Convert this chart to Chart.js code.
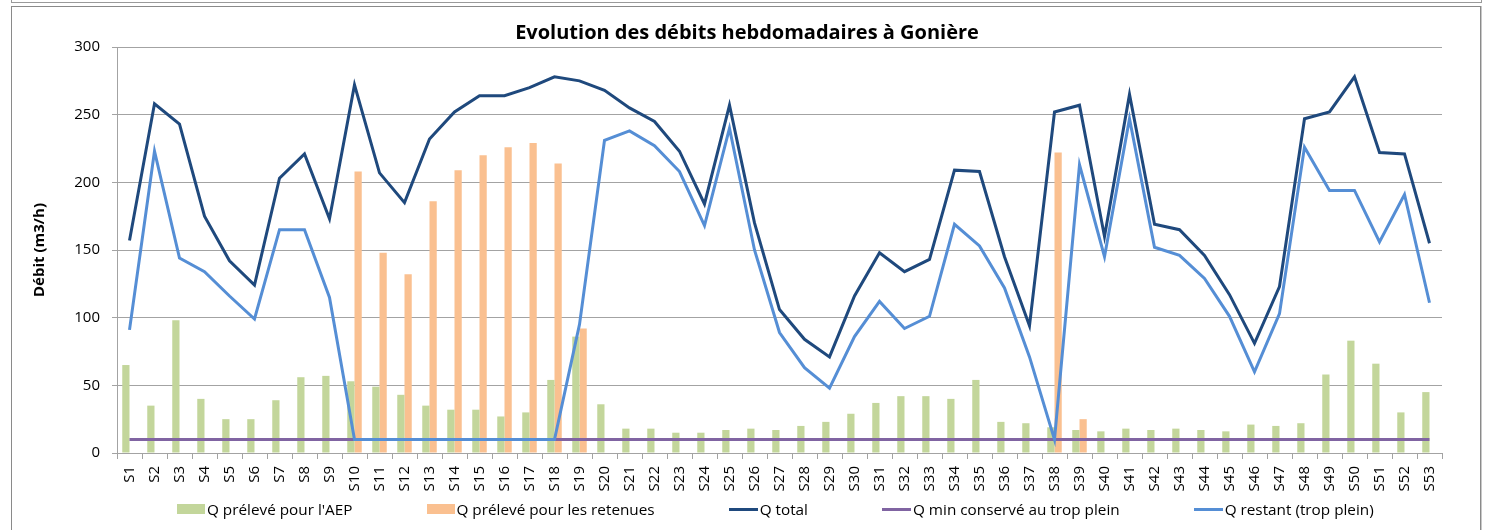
<!DOCTYPE html>
<html lang="fr">
<head>
<meta charset="utf-8">
<script src="https://cdn.jsdelivr.net/npm/chart.js@4.4.1/dist/chart.umd.min.js"></script>
<style>
  html, body { margin: 0; padding: 0; background: #fff; }
  body { width: 1494px; height: 530px; position: relative; overflow: hidden; font-family: "Open Sans", sans-serif; }
  #prevBox { position: absolute; left: 11px; top: -20px; width: 1469px; height: 21px; border: 1px solid #9a9a9a; }
  #frame { position: absolute; left: 11px; top: 6px; width: 1468px; height: 600px; border: 1px solid #8a8a8a; box-shadow: 1px 0 0 #c8c8c8; }
  #chart { position: absolute; left: 0; top: 0; }
  #legend { position: absolute; left: 177px; top: 499px; display: flex; align-items: center; gap: 74px; font-size: 15.3px; line-height: 20px; color: #000; white-space: nowrap; }
  #legend .item { display: flex; align-items: center; }
  #legend .swatch { width: 28px; height: 10px; margin-right: 2px; }
  #legend .line { width: 29px; height: 3px; margin-right: 2px; }
</style>
</head>
<body>
<div id="prevBox"></div>
<div id="frame"></div>
<canvas id="chart" width="1494" height="530"></canvas>
<div id="legend"></div>
<script>
const weeks = ['S1','S2','S3','S4','S5','S6','S7','S8','S9','S10','S11','S12','S13','S14','S15','S16','S17','S18','S19','S20',
  'S21','S22','S23','S24','S25','S26','S27','S28','S29','S30','S31','S32','S33','S34','S35','S36','S37','S38','S39','S40',
  'S41','S42','S43','S44','S45','S46','S47','S48','S49','S50','S51','S52','S53'];

// Q prélevé pour l'AEP
const qAep = [65, 35, 98, 40, 25, 25, 39, 56, 57, 53, 49, 43, 35, 32, 32, 27, 30, 54, 86, 36,
  18, 18, 15, 15, 17, 18, 17, 20, 23, 29, 37, 42, 42, 40, 54, 23, 22, 19, 17, 16,
  18, 17, 18, 17, 16, 21, 20, 22, 58, 83, 66, 30, 45];

// Q prélevé pour les retenues
const qRetenues = [null, null, null, null, null, null, null, null, null, 208, 148, 132, 186, 209, 220, 226, 229, 214, 92, null,
  null, null, null, null, null, null, null, null, null, null, null, null, null, null, null, null, null, 222, 25, null,
  null, null, null, null, null, null, null, null, null, null, null, null, null];

const qTotal = [157, 258, 243, 175, 142, 124, 203, 221, 173, 272, 207, 185, 232, 252, 264, 264, 270, 278, 275, 268,
  255, 245, 223, 184, 257, 170, 106, 84, 71, 116, 148, 134, 143, 209, 208, 145, 94, 252, 257, 160,
  265, 169, 165, 146, 117, 81, 123, 247, 252, 278, 222, 221, 155];

// Q min conservé au trop plein
const qMin = [10, 10, 10, 10, 10, 10, 10, 10, 10, 10, 10, 10, 10, 10, 10, 10, 10, 10, 10, 10,
  10, 10, 10, 10, 10, 10, 10, 10, 10, 10, 10, 10, 10, 10, 10, 10, 10, 10, 10, 10,
  10, 10, 10, 10, 10, 10, 10, 10, 10, 10, 10, 10, 10];

// Q restant (trop plein)
const qRestant = [91, 223, 144, 134, 116, 99, 165, 165, 115, 10, 10, 10, 10, 10, 10, 10, 10, 10, 95, 231,
  238, 227, 208, 168, 240, 150, 89, 63, 48, 86, 112, 92, 101, 169, 153, 122, 71, 10, 213, 145,
  247, 152, 146, 129, 101, 60, 103, 226, 194, 194, 156, 191, 111];

const font = '"Open Sans", sans-serif';
const gridColor = '#a3a3a3';

const datasets = [
  { type: 'bar', label: "Q prélevé pour l'AEP", data: qAep, backgroundColor: '#c3d69b', order: 3 },
  { type: 'bar', label: 'Q prélevé pour les retenues', data: qRetenues, backgroundColor: '#fac090', order: 4 },
  { type: 'line', label: 'Q total', data: qTotal, borderColor: '#1f497d', order: 2 },
  { type: 'line', label: 'Q min conservé au trop plein', data: qMin, borderColor: '#8064a2', order: 1 },
  { type: 'line', label: 'Q restant (trop plein)', data: qRestant, borderColor: '#558ed5', order: 0 },
];
datasets.forEach(ds => {
  if (ds.type === 'bar') {
    ds.borderWidth = 0;
    ds.barPercentage = 1;
    ds.categoryPercentage = 0.58;
  } else {
    ds.borderWidth = 3;
    ds.pointRadius = 0;
    ds.tension = 0;
    ds.fill = false;
  }
});

const chart = new Chart(document.getElementById('chart'), {
  type: 'bar',
  data: { labels: weeks, datasets },
  options: {
    responsive: false,
    animation: false,
    devicePixelRatio: 1,
    layout: { padding: { left: 0, right: 0, top: 0, bottom: 37 } },
    plugins: {
      legend: { display: false },
      tooltip: { enabled: false },
      title: {
        display: true,
        text: 'Evolution des débits hebdomadaires à Gonière',
        color: '#000',
        font: { family: font, size: 20, weight: 'bold' },
        padding: { top: 21, bottom: 2 }
      }
    },
    scales: {
      x: {
        offset: true,
        grid: { offset: true, drawOnChartArea: false, drawTicks: true, tickLength: 6, color: gridColor },
        border: { color: gridColor },
        ticks: { autoSkip: false, minRotation: 90, maxRotation: 90, padding: 7, color: '#000', font: { family: font, size: 15 } },
        afterFit: scale => { scale.height = 40; }
      },
      y: {
        min: 0,
        max: 300,
        grid: { color: gridColor, tickLength: 5 },
        border: { color: gridColor },
        ticks: { stepSize: 50, padding: 12, color: '#000', font: { family: font, size: 15 } },
        title: {
          display: true,
          text: 'Débit (m3/h)',
          color: '#000',
          font: { family: font, size: 15, weight: 'bold' },
          padding: { top: 31, bottom: 0 }
        },
        afterFit: scale => { scale.width = 117; }
      },
      // empty right axis, only keeps the white margin so the title stays centred on the page
      yRight: {
        position: 'right',
        grid: { display: false },
        border: { display: false },
        ticks: { display: false },
        afterFit: scale => { scale.width = 52; }
      }
    }
  }
});

// legend in html, same order as the datasets
const legend = document.getElementById('legend');
chart.data.datasets.forEach(ds => {
  const item = document.createElement('div');
  item.className = 'item';
  const mark = document.createElement('span');
  if (ds.type === 'bar') {
    mark.className = 'swatch';
    mark.style.background = ds.backgroundColor;
  } else {
    mark.className = 'line';
    mark.style.background = ds.borderColor;
  }
  const txt = document.createElement('span');
  txt.textContent = ds.label;
  item.appendChild(mark);
  item.appendChild(txt);
  legend.appendChild(item);
});
</script>
</body>
</html>
